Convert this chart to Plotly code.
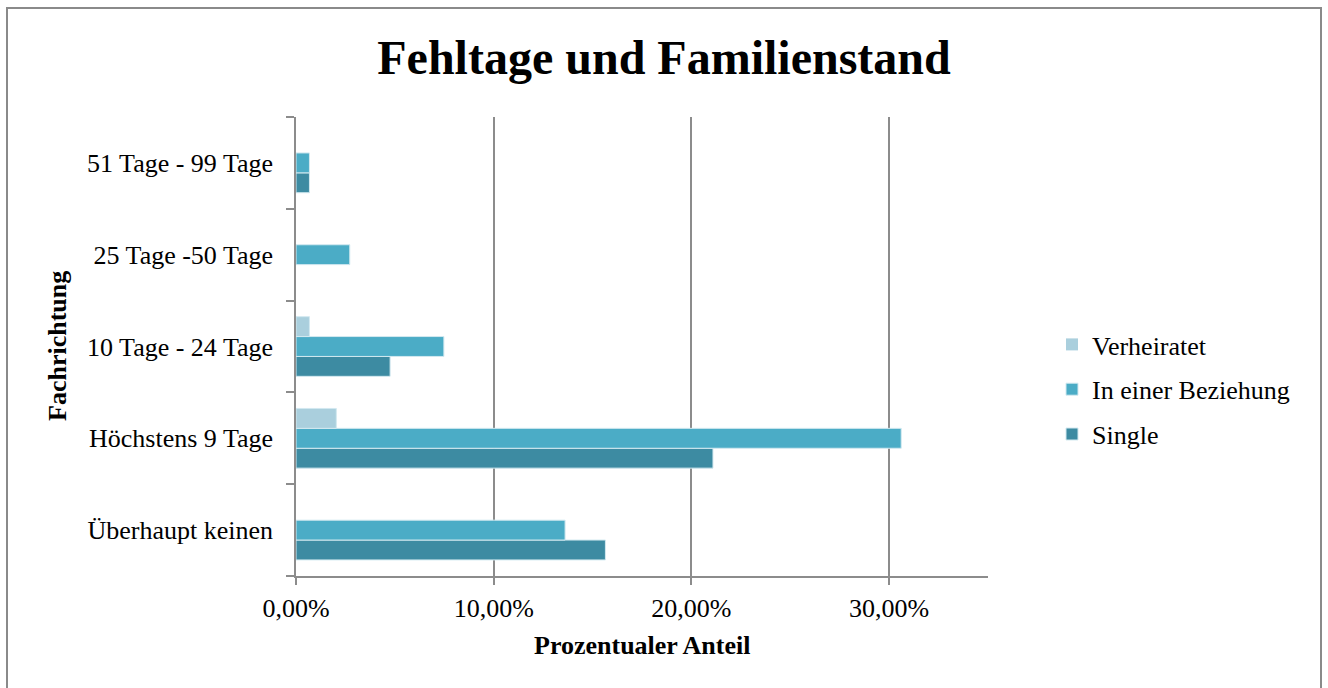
import plotly.graph_objects as go

# Absence categories (bottom to top) and the share per marital status
categories = ["Überhaupt keinen", "Höchstens 9 Tage", "10 Tage - 24 Tage",
              "25 Tage -50 Tage", "51 Tage - 99 Tage"]
single = [0.1565, 0.2109, 0.0476, 0.0, 0.0068]
beziehung = [0.1361, 0.3061, 0.0748, 0.0272, 0.0068]
verheiratet = [0.0, 0.0204, 0.0068, 0.0, 0.0]

x_ticks = [0.0, 0.1, 0.2, 0.3]

W, H = 1328, 688
L, R, T, B = 296, 988, 117, 576  # plot area in pixels

FONT = "Liberation Serif, Times New Roman, serif"
GRID = "#8c8c8c"

series = [
    ("Single", single, "#3d8ba2", 3),
    ("In einer Beziehung", beziehung, "#4bacc6", 2),
    ("Verheiratet", verheiratet, "#aacfdd", 1),
]

fig = go.Figure()
for name, vals, color, rank in series:
    fig.add_trace(go.Bar(
        y=categories, x=vals, name=name, orientation="h",
        legendgroup=name, legendrank=rank,
        marker=dict(color=color,
                    line=dict(color="#d3e9f0",
                              width=[1 if v else 0 for v in vals])),
    ))

def px_x(p):
    return (p - L) / (R - L)

def px_y(p):
    return (B - p) / (B - T)

fig.update_layout(
    width=W, height=H,
    margin=dict(l=L, r=W - R, t=T, b=H - B, pad=0),
    paper_bgcolor="white", plot_bgcolor="white",
    barmode="group", bargap=0.35, bargroupgap=0,
    font=dict(family=FONT, size=26, color="black"),
    separators=",.",
    title=dict(text="<b>Fehltage und Familienstand</b>",
               font=dict(family=FONT, size=48, color="black"),
               x=0.5, xref="container", xanchor="center",
               y=1 - 57 / H, yref="container", yanchor="middle"),
    xaxis=dict(range=[0, 0.35], tickvals=x_ticks, tickformat=".2%",
               showgrid=True, gridcolor=GRID, gridwidth=1.5,
               showline=True, linecolor=GRID, linewidth=1.5,
               ticks="outside", ticklen=7, tickcolor=GRID, tickwidth=1.5,
               zeroline=False, ticklabelstandoff=1,
               tickfont=dict(family=FONT, size=26)),
    yaxis=dict(type="category", categoryorder="array", categoryarray=categories,
               showline=True, linecolor=GRID, linewidth=1.5,
               ticks="outside", ticklen=8, tickcolor=GRID, tickwidth=1.5,
               tickson="boundaries", showgrid=False, zeroline=False,
               ticklabelstandoff=16,
               tickfont=dict(family=FONT, size=26)),
    legend=dict(x=px_x(1052), y=px_y(321), xanchor="left", yanchor="top",
                traceorder="grouped", tracegroupgap=8,
                font=dict(family=FONT, size=26), bgcolor="rgba(0,0,0,0)"),
    showlegend=True,
)

# Axis titles
fig.add_annotation(text="<b>Prozentualer Anteil</b>", xref="paper", yref="paper",
                   x=0.5, y=px_y(645), xanchor="center", yanchor="middle",
                   showarrow=False, font=dict(family=FONT, size=26))
fig.add_annotation(text="<b>Fachrichtung</b>", xref="paper", yref="paper",
                   x=px_x(57), y=px_y(346), xanchor="center", yanchor="middle",
                   textangle=-90, showarrow=False, font=dict(family=FONT, size=26))

# Outer chart frame
fig.add_shape(type="rect", xref="paper", yref="paper",
              x0=px_x(7), x1=px_x(1321), y0=px_y(710), y1=px_y(8),
              line=dict(color="#8a8a8a", width=2), fillcolor="rgba(0,0,0,0)",
              layer="below")

fig.write_html("out.html")
